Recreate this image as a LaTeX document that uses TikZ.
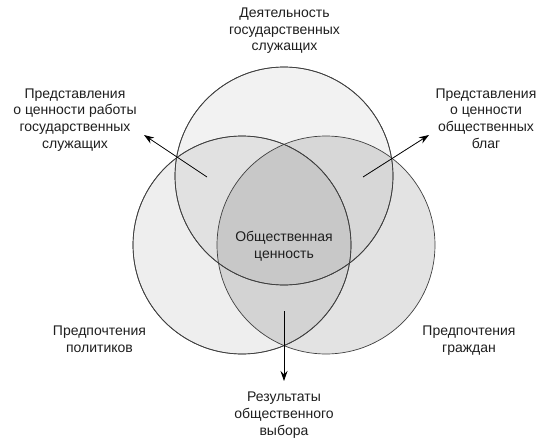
\documentclass[tikz,border=0pt]{standalone}
\usepackage{fontspec}
\setmainfont{Liberation Sans}
\usetikzlibrary{arrows.meta}
\begin{document}
\begin{tikzpicture}[x=1pt,y=-1pt,
  venn/.style={circle, draw=black!75, line width=0.7pt, minimum size=218pt, inner sep=0pt, fill=black, fill opacity=#1, draw opacity=1},
  lbl/.style={align=center, font=\fontsize{14}{16.6}\selectfont, text=black!88, inner sep=0pt},
  arr/.style={-{Stealth[length=10pt,width=7pt]}, line width=0.8pt, black}
]
\useasboundingbox (0,0) rectangle (554,444);
\fill[white] (0,0) rectangle (554,444);
% circles
\node[venn=0.05] (ctop) at (284,176) {};
\node[venn=0.065] (cleft) at (242,245) {};
\node[venn=0.11] (cright) at (326,245) {};
\draw[black!75, line width=0.7pt] (284,176) circle (109);
\draw[black!75, line width=0.7pt] (242,245) circle (109);
% labels (anchor = baseline of last line)
\node[lbl, anchor=base] (ttop) at (284.5,51) {Деятельность\\государственных\\служащих};
\node[lbl, anchor=base] (tleftup) at (75,148) {Представления\\о ценности работы\\государственных\\служащих};
\node[lbl, anchor=base] (trightup) at (486,148) {Представления\\о ценности\\общественных\\благ};
\node[lbl, anchor=base] (tcenter) at (284,258) {Общественная\\ценность};
\node[lbl, anchor=base] (tleftdn) at (99.5,352) {Предпочтения\\политиков};
\node[lbl, anchor=base] (trightdn) at (469,352) {Предпочтения\\граждан};
\node[lbl, anchor=base] (tbottom) at (284,435) {Результаты\\общественного\\выбора};
% arrows
\coordinate (aL0) at (207,177);
\coordinate (aL1) at (144,135);
\coordinate (aR0) at (363,177);
\coordinate (aR1) at (429,135);
\coordinate (aB0) at (284,311);
\coordinate (aB1) at (284,381);
\draw[arr] (aL0) -- (aL1);
\draw[arr] (aR0) -- (aR1);
\draw[arr] (aB0) -- (aB1);
\end{tikzpicture}
\end{document}
